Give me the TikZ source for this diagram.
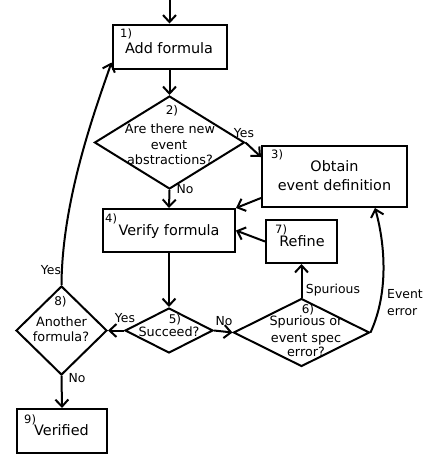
\documentclass[tikz,border=0pt]{standalone}
\usepackage{fontspec}
\setmainfont{DejaVu Sans}
\usetikzlibrary{arrows.meta,shapes.geometric}
\begin{document}
\begin{tikzpicture}[x=1pt,y=-1pt,
 box/.style={draw,line width=2pt,inner sep=0pt},
 dia/.style={draw,diamond,line width=2pt,inner sep=0pt},
 conn/.style={line width=2pt,-{Straight Barb[length=7pt,width=13pt]}},
 btxt/.style={font=\fontsize{14.4}{16}\selectfont,anchor=base,inner sep=0pt},
 dtxt/.style={font=\fontsize{12.8}{15}\selectfont,anchor=base,inner sep=0pt},
 lab/.style={font=\fontsize{12.4}{14}\selectfont,anchor=base,inner sep=0pt},
 num/.style={font=\fontsize{11.5}{12}\selectfont,anchor=base west,inner sep=0pt},
 dnum/.style={font=\fontsize{12}{12}\selectfont,anchor=base,inner sep=0pt}]
\useasboundingbox (0,0) rectangle (426,456);
% shapes
\node[box,minimum width=114pt,minimum height=44pt] (b1) at (169.5,46.5) {};
\node[dia,minimum width=150pt,minimum height=93pt] (d2) at (169.5,142.5) {};
\node[box,minimum width=145pt,minimum height=61pt] (b3) at (334.5,176.5) {};
\node[box,minimum width=132pt,minimum height=43pt] (b4) at (169,230.5) {};
\node[box,minimum width=71pt,minimum height=43pt] (b7) at (301.5,241.5) {};
\node[dia,minimum width=88pt,minimum height=45pt] (d5) at (169,330.5) {};
\node[dia,minimum width=136pt,minimum height=68pt] (d6) at (301.5,332.5) {};
\node[dia,minimum width=91pt,minimum height=89pt] (d8) at (61.5,330.5) {};
\node[box,minimum width=90pt,minimum height=44pt] (b9) at (62,431) {};
% texts
\node[btxt] (t1) at (169,53) {Add formula};
\node[num] (n1) at (120,37.5) {1)};
\node[dnum] (n2) at (172,114) {2)};
\node[dtxt] (t2a) at (170,133.3) {Are there new};
\node[dtxt] (t2b) at (169,149.3) {event};
\node[dtxt] (t2c) at (170,164) {abstractions?};
\node[num] (n3) at (271,158.5) {3)};
\node[btxt] (t3a) at (334.5,171.7) {Obtain};
\node[btxt] (t3b) at (334.5,190) {event definition};
\node[num] (n4) at (105,222) {4)};
\node[btxt] (t4) at (169,235) {Verify formula};
\node[num] (n7) at (275,233) {7)};
\node[btxt] (t7) at (302,246.7) {Refine};
\node[dnum] (n5) at (175,323) {5)};
\node[dtxt] (t5) at (169,336) {Succeed?};
\node[dnum] (n6) at (308,313) {6)};
\node[dtxt] (t6a) at (306,325.7) {Spurious or};
\node[dtxt] (t6b) at (306,342) {event spec};
\node[dtxt] (t6c) at (306,356) {error?};
\node[dnum] (n8) at (60.5,305.5) {8)};
\node[dtxt] (t8a) at (61.5,326.7) {Another};
\node[dtxt] (t8b) at (61,341.7) {formula?};
\node[num] (n9) at (24,423) {9)};
\node[btxt] (t9) at (61.5,435.7) {Verified};
% connectors
\coordinate (top) at (169.5,0);
\draw[conn] (top) -- (b1.north);
\draw[conn] (b1.south) -- (d2.north);
\draw[conn] (d2.east) -- ([yshift=-12pt]b3.north west);
\draw[conn] (d2.south) -- (b4.north);
\draw[conn] ([yshift=10pt]b3.south west) -- (b4.north east);
\draw[conn] (b7.west) -- (b4.east);
\draw[conn] (b4.south) -- (d5.north);
\draw[conn] (d5.east) -- (d6.west);
\draw[conn] (d5.west) -- (d8.east);
\draw[conn] (d6.north) -- (b7.south);
\draw[conn] (d6.east) .. controls (390,290) and (384,240) .. ([xshift=-33pt]b3.south east);
\draw[conn] (d8.north) .. controls (62,200) and (95,110) .. ([yshift=7pt]b1.south west);
\draw[conn] (d8.south) -- (b9.north);
% connector labels
\node[lab] (l1) at (244,137) {Yes};
\node[lab] (l2) at (185,193) {No};
\node[lab] (l3) at (224,325) {No};
\node[lab] (l4) at (125,322) {Yes};
\node[lab] (l5) at (333,293.3) {Spurious};
\node[lab,anchor=base west] (l6a) at (387,298.3) {Event};
\node[lab,anchor=base west] (l6b) at (387,315) {error};
\node[lab] (l7) at (51,274) {Yes};
\node[lab] (l8) at (77,382) {No};
\end{tikzpicture}
\end{document}
